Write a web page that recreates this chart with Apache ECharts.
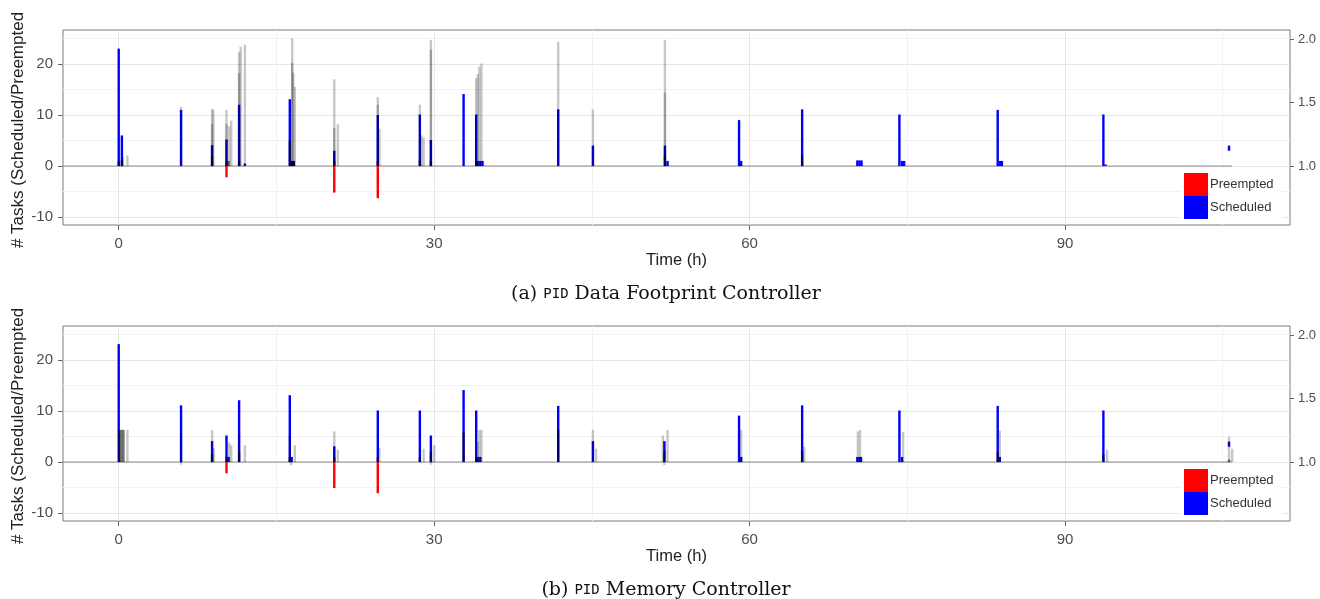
<!DOCTYPE html>
<html>
<head>
<meta charset="utf-8">
<script src="https://cdn.jsdelivr.net/npm/echarts@6/dist/echarts.min.js"></script>
<style>
  html, body { margin: 0; padding: 0; background: #fff; }
  #chart { width: 1320px; height: 599px; }
</style>
</head>
<body>
<div id="chart"></div>
<script>
// tick labels
var xTicks = [0, 30, 60, 90];
var yTicks = [-10, 0, 10, 20];
var rightTicks = [1.0, 1.5, 2.0];
var xMinor = [15, 45, 75, 105];
var yMinor = [-5, 5, 15, 25];

// [time (h), top, base]  base defaults to 0
// (a) PID Data Footprint Controller
var schedA = [[0.0, 23], [0.3, 6], [5.93, 11], [8.88, 4.1], [10.25, 5.2], [11.45, 12], [12.0, 0.5],
  [16.27, 13.1], [16.45, 1], [16.65, 1], [20.5, 3.0], [24.64, 10], [28.64, 10.1], [29.69, 5.1],
  [32.8, 14.1], [34.0, 10.1], [34.2, 1], [34.4, 1], [34.6, 1], [41.8, 11.1], [45.1, 4.0],
  [51.95, 4.0], [52.2, 1], [59.0, 9.0], [59.2, 1], [65.0, 11.1], [70.25, 1.1], [70.45, 1.1],
  [70.65, 1.1], [74.25, 10.1], [74.5, 1], [74.7, 1], [83.6, 11], [83.8, 1], [84.0, 1],
  [93.65, 10.1], [93.85, 0.3], [105.6, 4, 3]];
var preemptA = [[10.25, -2.2], [20.5, -5.2], [24.64, -6.3]];
var lightA = [[0.4, 1.8], [0.83, 2.1], [5.93, 11.6], [8.88, 11.2], [8.88, 8.2], [9.0, 11],
  [10.25, 11], [10.25, 8.3], [10.5, 7.8], [10.7, 8.9], [11.45, 22.4], [11.45, 18.2], [11.6, 23.4],
  [12.0, 23.8], [16.5, 25], [16.5, 20.2], [16.6, 18.3], [16.75, 15.5], [20.5, 17], [20.5, 7.5],
  [20.84, 8.2], [24.64, 13.5], [24.64, 12], [24.8, 7.3], [28.64, 12], [28.8, 6], [29.0, 5.6],
  [29.69, 24.7], [29.69, 22.8], [34.0, 17.2], [34.15, 18], [34.3, 19.5], [34.5, 20.1],
  [41.8, 24.3], [45.1, 11.1], [51.95, 24.7], [51.95, 14.4]];
var darkA = [[0.0, 1], [0.3, 1.2], [8.88, 2], [10.25, 1], [10.45, 1], [11.45, 1], [16.27, 5],
  [16.45, 1], [16.65, 1], [20.5, 1], [24.64, 1], [28.64, 1], [29.69, 1], [34.0, 1],
  [51.95, 2.1], [65.0, 2.1]];

// (b) PID Memory Controller
var schedB = [[0.0, 23.1], [5.93, 11.1], [8.88, 4.1], [10.25, 5.2], [10.45, 1], [11.45, 12.1],
  [16.27, 13.1], [16.45, 1], [20.5, 3.1], [24.64, 10.1], [28.64, 10.1], [29.69, 5.2], [32.8, 14.1],
  [34.0, 10.1], [34.2, 1], [34.4, 1], [41.8, 11], [45.1, 4.1], [51.9, 4.1], [59.0, 9.1], [59.2, 1],
  [65.0, 11.1], [70.25, 1], [70.45, 1], [70.6, 1], [74.25, 10.1], [74.5, 1], [83.6, 11], [83.8, 1],
  [93.65, 10.1], [105.6, 4, 3]];
var preemptB = [[10.25, -2.2], [20.5, -5.1], [24.64, -6.1]];
var lightB = [[0.83, 6.3], [5.93, 5.7], [5.93, -0.5], [8.88, 6.3], [9.05, 2.7], [10.5, 3.8],
  [10.7, 3.3], [11.45, 5.6], [12.0, 3.3], [16.27, 5.1], [16.75, 3.3], [16.4, -0.6], [20.5, 6.0],
  [20.84, 2.4], [24.8, 2.8], [29.0, 2.6], [30.0, 3.3], [29.69, -0.5], [34.15, 4], [34.3, 6.3],
  [34.5, 6.3], [45.1, 6.3], [45.4, 2.6], [51.75, 5.2], [52.2, 6.3], [51.9, -0.6], [59.2, 6.3],
  [65.2, 3.0], [70.3, 6.0], [70.5, 6.3], [74.6, 5.9], [83.8, 6.1], [94.0, 2.4], [105.6, 5.0],
  [105.9, 2.6]];
var darkB = [[0.05, 6.3], [0.25, 6.3], [0.45, 6.3], [8.88, 1.5], [10.25, 1], [11.45, 2],
  [16.27, 1], [20.5, 1], [24.64, 1], [28.64, 1], [29.69, 2], [32.8, 5.8], [34.0, 1], [41.8, 6.3],
  [51.9, 2.2], [65.0, 2.2], [83.6, 2], [93.65, 1.5], [105.6, 0.5]];

// zero line runs from the panel edge to the last sample
var zeroLine = [[-5.3, 0], [105.9, 0]];

var xRange = [-5.3, 111.4];
var yRange = [-11.55, 26.65];
var rightRange = [1 + yRange[0] / 24.8, 1 + yRange[1] / 24.8];

var grids = [{ top: 30, height: 195 }, { top: 326, height: 195 }];
var captions = [
  ['(a) ', ' Data Footprint Controller'],
  ['(b) ', ' Memory Controller']
];

function norm(arr) {
  return arr.map(function (d) { return [d[0], d[1], d[2] || 0]; });
}

function renderBar(params, api) {
  var x = api.value(0);
  var p1 = api.coord([x, api.value(1)]);
  var p0 = api.coord([x, api.value(2)]);
  var w = 2.4;
  return {
    type: 'rect',
    shape: { x: p1[0] - w / 2, y: Math.min(p0[1], p1[1]), width: w, height: Math.abs(p0[1] - p1[1]) },
    style: api.style()
  };
}

function barSeries(name, data, color, idx, z) {
  return {
    name: name,
    type: 'custom',
    xAxisIndex: idx,
    yAxisIndex: idx * 2,
    renderItem: renderBar,
    itemStyle: { color: color },
    data: norm(data),
    clip: true,
    silent: true,
    z: z,
    animation: false
  };
}

function gridLines(idx) {
  var lines = [];
  xTicks.forEach(function (v) { lines.push({ xAxis: v, lineStyle: { color: '#e6e6e6', width: 1, type: 'solid' } }); });
  xMinor.forEach(function (v) { lines.push({ xAxis: v, lineStyle: { color: '#f2f2f2', width: 1, type: 'solid' } }); });
  yTicks.forEach(function (v) { lines.push({ yAxis: v, lineStyle: { color: '#e6e6e6', width: 1, type: 'solid' } }); });
  yMinor.forEach(function (v) { lines.push({ yAxis: v, lineStyle: { color: '#f2f2f2', width: 1, type: 'solid' } }); });
  return {
    type: 'line',
    xAxisIndex: idx,
    yAxisIndex: idx * 2,
    data: [],
    z: 0,
    silent: true,
    markLine: { z: 0, symbol: ['none', 'none'], silent: true, animation: false, label: { show: false }, data: lines }
  };
}

var fontSans = 'Liberation Sans';
var option = { animation: false, backgroundColor: '#fff', grid: [], xAxis: [], yAxis: [], series: [], legend: [], graphic: [] };

var panels = [
  { sched: schedA, pre: preemptA, light: lightA, dark: darkA },
  { sched: schedB, pre: preemptB, light: lightB, dark: darkB }
];

panels.forEach(function (p, i) {
  var g = grids[i];
  option.grid.push({
    left: 63, right: 30, top: g.top, height: g.height,
    show: true, borderColor: '#7a7a7a', borderWidth: 1, backgroundColor: '#fff'
  });
  option.xAxis.push({
    type: 'value', gridIndex: i, min: xRange[0], max: xRange[1],
    axisLine: { show: false, onZero: false },
    axisTick: { show: true, length: 5, lineStyle: { color: '#666' }, customValues: xTicks },
    axisLabel: { customValues: xTicks, fontSize: 15, color: '#4d4d4d', fontFamily: fontSans, margin: 11 },
    splitLine: { show: false },
    name: 'Time (h)', nameLocation: 'middle', nameGap: 27,
    nameTextStyle: { fontSize: 16.5, color: '#222', fontFamily: fontSans }
  });
  option.yAxis.push({
    type: 'value', gridIndex: i, position: 'left', min: yRange[0], max: yRange[1],
    axisLine: { show: false, onZero: false },
    axisTick: { show: true, length: 5, lineStyle: { color: '#666' }, customValues: yTicks },
    axisLabel: { customValues: yTicks, fontSize: 15, color: '#4d4d4d', fontFamily: fontSans, margin: 10 },
    splitLine: { show: false }
  });
  option.yAxis.push({
    type: 'value', gridIndex: i, position: 'right', min: rightRange[0], max: rightRange[1],
    axisLine: { show: false, onZero: false },
    axisTick: { show: true, length: 4, lineStyle: { color: '#666' }, customValues: rightTicks },
    axisLabel: {
      customValues: rightTicks, fontSize: 13, color: '#4d4d4d', fontFamily: fontSans, margin: 8,
      formatter: function (v) { return v.toFixed(1); }
    },
    splitLine: { show: false }
  });

  option.series.push(gridLines(i));
  option.series.push({
    type: 'line', xAxisIndex: i, yAxisIndex: i * 2, data: zeroLine, symbol: 'none', silent: true,
    lineStyle: { color: '#8c8c8c', width: 1 }, z: 1
  });
  option.series.push(barSeries('Preempted', p.pre, '#ff0000', i, 2));
  option.series.push(barSeries('Scheduled', p.sched, '#0000ff', i, 3));
  option.series.push(barSeries('gray', p.light, 'rgba(0,0,0,0.22)', i, 4));
  option.series.push(barSeries('dark', p.dark, 'rgba(0,0,0,0.55)', i, 5));

  option.legend.push({
    data: ['Preempted', 'Scheduled'], orient: 'vertical', left: 1180, top: g.top + 139,
    icon: 'rect', itemWidth: 24, itemHeight: 23, itemGap: 0, selectedMode: false,
    backgroundColor: '#fff', padding: [4, 8, 4, 4],
    textStyle: { fontSize: 13, color: '#333', fontFamily: fontSans, padding: [0, 0, 0, -3] }
  });

  option.graphic.push({
    type: 'text', x: 18, y: g.top + 100, rotation: Math.PI / 2,
    style: { text: '# Tasks (Scheduled/Preempted', fontSize: 17, fill: '#222', fontFamily: fontSans, align: 'center', verticalAlign: 'middle' }
  });
  option.graphic.push({
    type: 'text', x: 666, y: g.top + 264,
    style: {
      text: '{s|' + captions[i][0] + '}{m|PID}{s|' + captions[i][1] + '}',
      align: 'center', verticalAlign: 'middle',
      rich: {
        s: { fontSize: 19, fontFamily: 'DejaVu Serif', fill: '#111' },
        m: { fontSize: 14, fontFamily: 'DejaVu Sans Mono', fill: '#111' }
      }
    }
  });
});

var chart = echarts.init(document.getElementById('chart'), null, { renderer: 'canvas' });
chart.setOption(option);
</script>
</body>
</html>
